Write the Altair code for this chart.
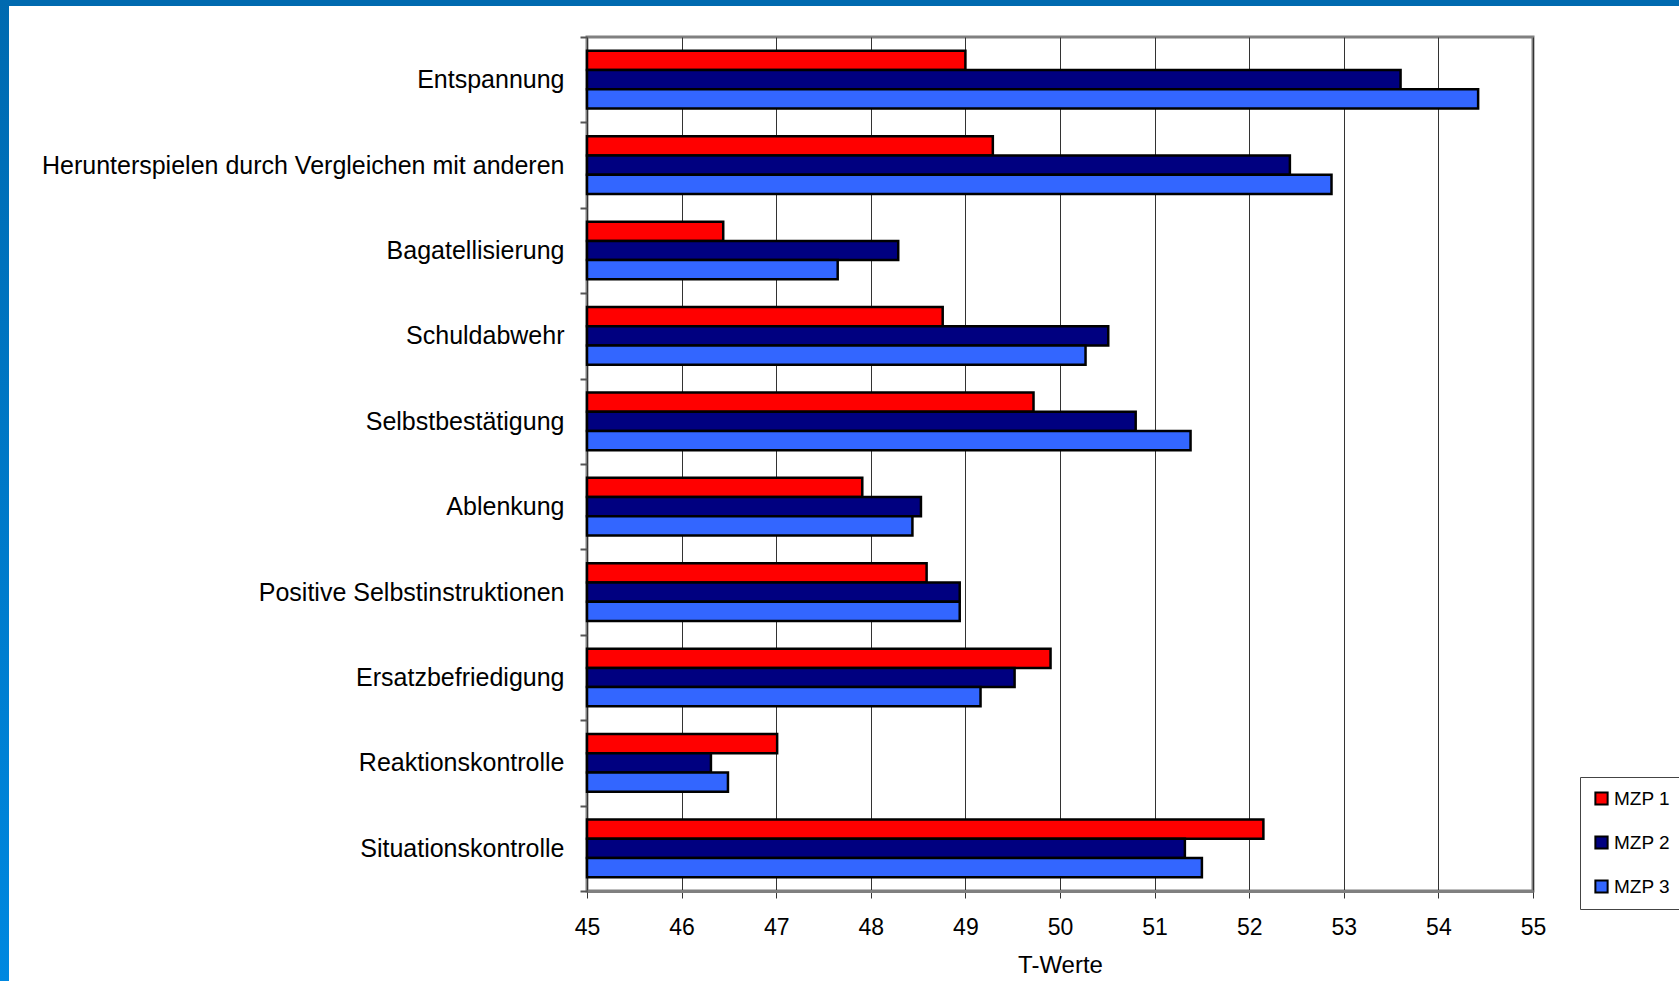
import altair as alt
import pandas as pd

# Coping strategies (SVF subscales), T-values at three measurement points
categories = [
    "Entspannung",
    "Herunterspielen durch Vergleichen mit anderen",
    "Bagatellisierung",
    "Schuldabwehr",
    "Selbstbestätigung",
    "Ablenkung",
    "Positive Selbstinstruktionen",
    "Ersatzbefriedigung",
    "Reaktionskontrolle",
    "Situationskontrolle",
]
series = ["MZP 1", "MZP 2", "MZP 3"]
mzp1 = [49.00, 49.29, 46.44, 48.76, 49.72, 47.91, 48.59, 49.90, 47.01, 52.15]
mzp2 = [53.60, 52.43, 48.29, 50.51, 50.80, 48.53, 48.94, 49.52, 46.31, 51.32]
mzp3 = [54.42, 52.87, 47.65, 50.27, 51.38, 48.44, 48.94, 49.16, 46.49, 51.50]
colors = ["#FF0000", "#000080", "#3366FF"]
x_ticks = list(range(45, 56))

rows = []
for name, vals in zip(series, [mzp1, mzp2, mzp3]):
    for cat, v in zip(categories, vals):
        rows.append({"Kategorie": cat, "Zeitpunkt": name, "Wert": v})
df = pd.DataFrame(rows)

FONT = "Liberation Sans"
W, H = 946, 854
LEFT, TOP = 587, 37

bars = alt.Chart(df).mark_bar(stroke="black", strokeWidth=2.5).encode(
    y=alt.Y(
        "Kategorie:N",
        sort=categories,
        scale=alt.Scale(paddingInner=0, paddingOuter=0),
        axis=alt.Axis(
            title=None,
            labelFont=FONT,
            labelFontSize=25,
            labelColor="black",
            labelPadding=16,
            labelLimit=600,
            tickBand="extent",
            tickSize=7,
            tickColor="#555555",
            tickWidth=2,
            domain=False,
            grid=False,
        ),
    ),
    yOffset=alt.YOffset(
        "Zeitpunkt:N",
        sort=series,
        scale=alt.Scale(paddingInner=0, paddingOuter=0.72),
    ),
    x=alt.X(
        "Wert:Q",
        scale=alt.Scale(domain=[45, 55], zero=False, nice=False),
        axis=alt.Axis(
            title="T-Werte",
            titleFont=FONT,
            titleFontSize=24,
            titleFontWeight="normal",
            titleColor="black",
            titlePadding=14,
            values=x_ticks,
            format="d",
            labelFont=FONT,
            labelFontSize=23,
            labelColor="black",
            labelPadding=18,
            labelFlush=False,
            tickSize=7,
            tickColor="#333333",
            grid=True,
            gridColor="#333333",
            gridWidth=1,
            domainColor="#808080",
            domainWidth=3,
        ),
    ),
    x2=alt.datum(45),
    color=alt.Color(
        "Zeitpunkt:N",
        sort=series,
        scale=alt.Scale(domain=series, range=colors),
        legend=alt.Legend(
            title=None,
            orient="none",
            legendX=993,
            legendY=740,
            padding=12,
            strokeColor="#444444",
            fillColor="white",
            labelFont=FONT,
            labelFontSize=19,
            labelColor="black",
            symbolType="square",
            symbolSize=150,
            symbolStrokeColor="black",
            symbolStrokeWidth=2,
            symbolOpacity=1,
            rowPadding=23,
            labelOffset=3,
        ),
    ),
)

# Slide frame: blue bar along the top and a gradient bar along the left edge
frame_df = pd.DataFrame({"k": [0]})
top_bar = alt.Chart(frame_df).mark_rect(color="#006AB0").encode(
    x=alt.value(-LEFT), x2=alt.value(1679 - LEFT),
    y=alt.value(-TOP), y2=alt.value(-TOP + 6),
)
left_bar = alt.Chart(frame_df).mark_rect(
    color=alt.Gradient(
        gradient="linear",
        stops=[alt.GradientStop(color="#006AB0", offset=0),
               alt.GradientStop(color="#0088E0", offset=1)],
        x1=0, x2=0, y1=0, y2=1,
    )
).encode(
    x=alt.value(-LEFT), x2=alt.value(-LEFT + 9),
    y=alt.value(-TOP), y2=alt.value(981 - TOP),
)

chart = alt.layer(bars, top_bar, left_bar).properties(
    width=W,
    height=H,
    autosize="none",
    padding={"left": LEFT, "top": TOP, "right": 1679 - LEFT - W, "bottom": 981 - TOP - H},
    background="white",
).configure_view(
    stroke="#808080",
    strokeWidth=3,
)

chart.save("out.html", embed_options={"renderer": "svg", "actions": False})
